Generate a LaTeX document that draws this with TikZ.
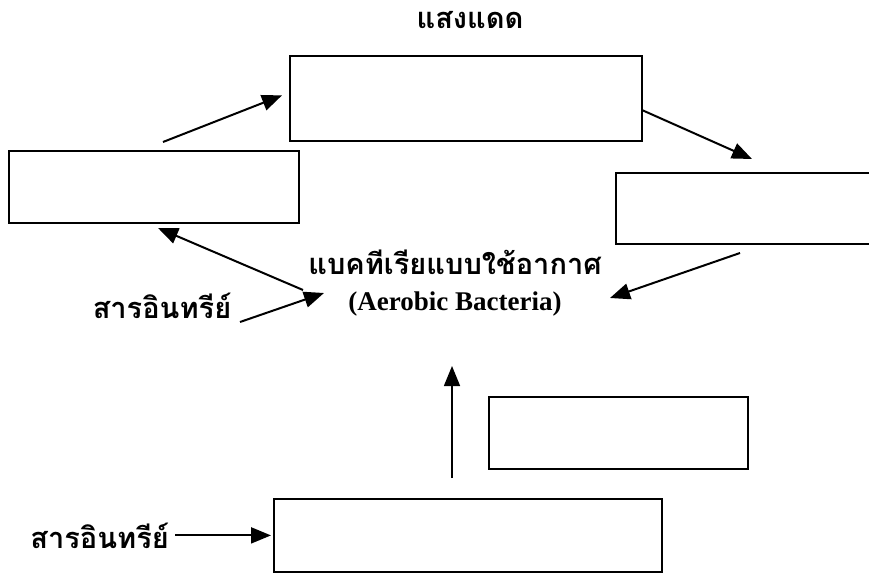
\documentclass[tikz,border=0pt]{standalone}
\usepackage{fontspec}
\setmainfont{Liberation Serif}
\newfontfamily\thaifont[Script=Thai]{Loma}
\usetikzlibrary{positioning,arrows.meta}

\begin{document}
\begin{tikzpicture}[
x=1pt, y=-1pt,
box/.style={rectangle, draw, line width=1.8pt, inner sep=0pt, anchor=north west},
thai/.style={font=\thaifont\bfseries\fontsize{29}{33}\selectfont, inner sep=0pt},
latin/.style={font=\bfseries\fontsize{27}{31}\selectfont, inner sep=0pt},
arrow/.style={-{Triangle[length=20pt, width=16pt]}, line width=2pt}
]
\useasboundingbox (0,0) rectangle (869,575);
\clip (0,0) rectangle (869,575);

% boxes
\node[box, minimum width=352pt, minimum height=85pt] (top) at (289,55) {};
\node[box, minimum width=290pt, minimum height=72pt] (left) at (8,150) {};
\node[box, minimum width=300pt, minimum height=71pt] (right) at (615,172) {};
\node[box, minimum width=259pt, minimum height=72pt] (small) at (488,396) {};
\node[box, minimum width=388pt, minimum height=73pt] (bottom) at (273,498) {};

% texts
\node[thai] (sun) at (470,20) {แสงแดด};
\node[thai] (bact) at (455,262) {แบคทีเรียแบบใช้อากาศ};
\node[latin] (aero) at (455,304) {(Aerobic Bacteria)};
\node[thai] (org1) at (162,306) {สารอินทรีย์};
\node[thai, left=104pt of bottom.west] (org2) {สารอินทรีย์};

% free arrow ends
\coordinate (a1) at (163,142);
\coordinate (a2) at (752,159);
\coordinate (a3s) at (740,253);
\coordinate (a3e) at (610,298);
\coordinate (a4s) at (303,290);
\coordinate (a4e) at (158,228);
\coordinate (a5s) at (240,322);
\coordinate (a5e) at (324,293);
\coordinate (a6s) at (452,478);
\coordinate (a6e) at (452,366);

\draw[arrow] (a1) -- ([xshift=-7pt, yshift=3pt]top.west);
\draw[arrow] ([yshift=-12pt]top.east) -- (a2);
\draw[arrow] (a3s) -- (a3e);
\draw[arrow] (a4s) -- (a4e);
\draw[arrow] (a5s) -- (a5e);
\draw[arrow, line width=1.5pt] (a6s) -- (a6e);
\draw[arrow, shorten <=6pt] (org2.east) -- ([xshift=-2pt]bottom.west);

\end{tikzpicture}
\end{document}
